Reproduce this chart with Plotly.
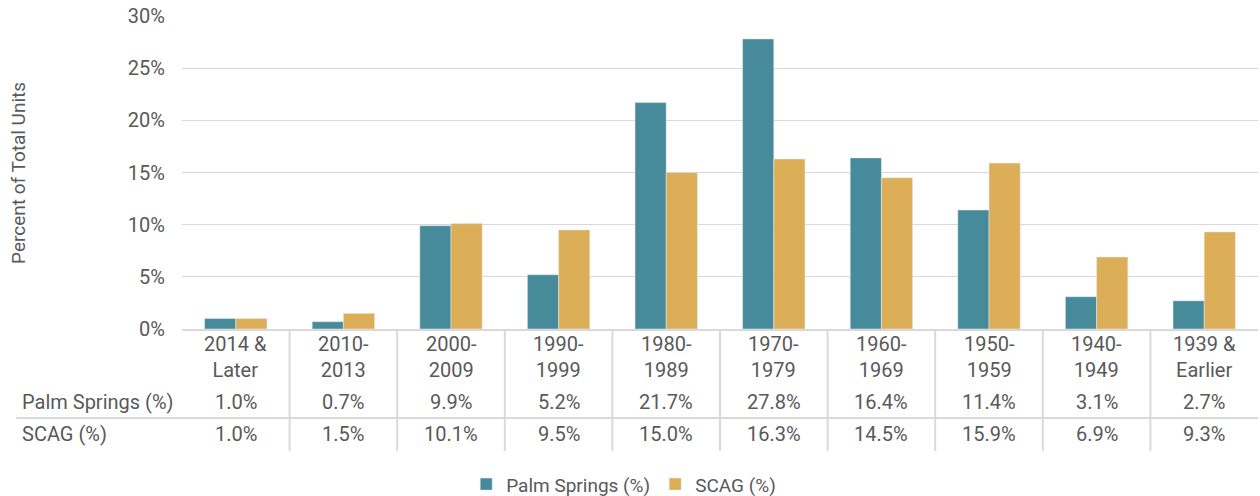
import plotly.graph_objects as go

# Data
categories = ["2014 &<br>Later", "2010-<br>2013", "2000-<br>2009", "1990-<br>1999", "1980-<br>1989",
              "1970-<br>1979", "1960-<br>1969", "1950-<br>1959", "1940-<br>1949", "1939 &<br>Earlier"]
palm_springs = [1.0, 0.7, 9.9, 5.2, 21.7, 27.8, 16.4, 11.4, 3.1, 2.7]
scag = [1.0, 1.5, 10.1, 9.5, 15.0, 16.3, 14.5, 15.9, 6.9, 9.3]
y_ticks = [0, 5, 10, 15, 20, 25, 30]

COLORS = {
    "palm": "#478A99",
    "scag": "#DBAE57",
    "text": "#595959",
    "grid": "#D9D9D9",
}
FONT = "Roboto, sans-serif"
FS = 20

x_idx = list(range(len(categories)))

fig = go.Figure()
fig.add_trace(go.Bar(x=x_idx, y=palm_springs, name="Palm Springs (%)",
                     marker_color=COLORS["palm"]))
fig.add_trace(go.Bar(x=x_idx, y=scag, name="SCAG (%)",
                     marker_color=COLORS["scag"]))

# Data table below the axis (Excel style)
ROW_CAT = -0.088
ROW_PS = -0.233
ROW_SC = -0.335
SEP = -0.284
BOTTOM = -0.39
LEFT = -0.154

for i, cat in enumerate(categories):
    fig.add_annotation(x=i, y=ROW_CAT, xref="x", yref="paper", text=cat,
                       yanchor="middle", showarrow=False,
                       font=dict(size=FS, color=COLORS["text"]))
    fig.add_annotation(x=i, y=ROW_PS, xref="x", yref="paper", text=f"{palm_springs[i]:.1f}%",
                       yanchor="middle", showarrow=False,
                       font=dict(size=FS, color=COLORS["text"]))
    fig.add_annotation(x=i, y=ROW_SC, xref="x", yref="paper", text=f"{scag[i]:.1f}%",
                       yanchor="middle", showarrow=False,
                       font=dict(size=FS, color=COLORS["text"]))

for label, row in [("Palm Springs (%)", ROW_PS), ("SCAG (%)", ROW_SC)]:
    fig.add_annotation(x=-0.151, y=row, xref="paper", yref="paper", text=label,
                       xanchor="left", yanchor="middle", showarrow=False,
                       font=dict(size=FS, color=COLORS["text"]))

# table grid lines
for i in range(1, len(categories)):
    fig.add_shape(type="line", xref="x", yref="paper", x0=i - 0.5, x1=i - 0.5,
                  y0=0, y1=BOTTOM, line=dict(color=COLORS["grid"], width=2))
fig.add_shape(type="line", xref="paper", yref="paper", x0=LEFT, x1=1, y0=SEP, y1=SEP,
              line=dict(color=COLORS["grid"], width=2))

# y-axis title
fig.add_annotation(x=-0.152, y=0.5, xref="paper", yref="paper", text="Percent of Total Units",
                   textangle=-90, xanchor="center", yanchor="middle", showarrow=False,
                   font=dict(size=19, color=COLORS["text"]))

fig.update_layout(
    width=1260,
    height=496,
    margin=dict(l=182, r=2, t=16, b=167),
    barmode="group",
    bargap=0.42,
    bargroupgap=0,
    plot_bgcolor="white",
    paper_bgcolor="white",
    font=dict(family=FONT, color=COLORS["text"], size=FS),
    showlegend=True,
    legend=dict(orientation="h", xref="container", yref="container",
                x=0.495, xanchor="center", y=0.062, yanchor="top",
                font=dict(size=19, color=COLORS["text"]), traceorder="normal"),
    xaxis=dict(range=[-0.5, len(categories) - 0.5], showticklabels=False,
               showgrid=False, zeroline=False, showline=True,
               linecolor=COLORS["grid"], linewidth=2, ticks=""),
    yaxis=dict(range=[0, 30], tickvals=y_ticks, ticktext=[f"{v}%" for v in y_ticks],
               showgrid=True, gridcolor=COLORS["grid"], gridwidth=1,
               zeroline=False, ticks="", ticklen=0, ticklabelstandoff=16,
               tickfont=dict(size=FS, color=COLORS["text"])),
)

fig.write_html("out.html", config={"displayModeBar": False},
               post_script="document.body.style.margin='0';")
